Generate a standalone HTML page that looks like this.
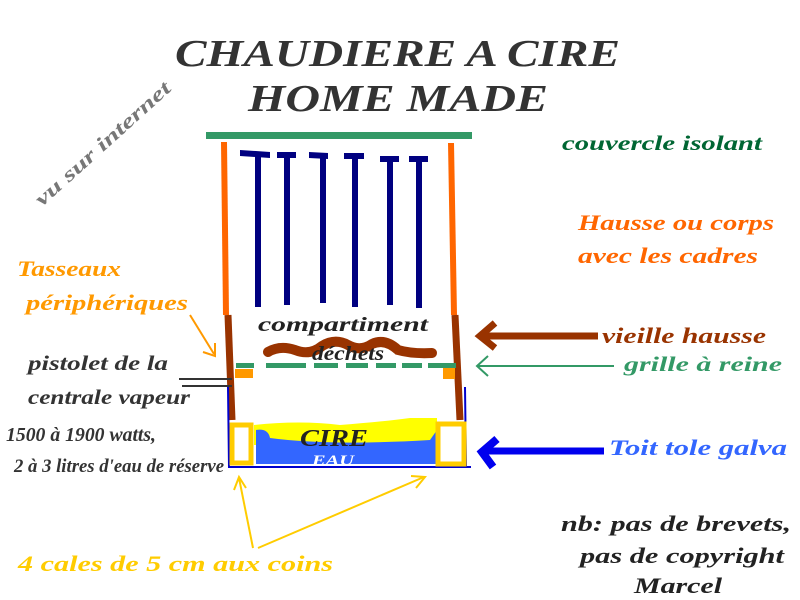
<!DOCTYPE html>
<html><head><meta charset="utf-8"><style>
html,body{margin:0;padding:0;background:#fff;width:800px;height:600px;overflow:hidden}
text{font-family:"Liberation Serif",serif;font-style:italic;font-weight:bold}
</style></head><body>
<svg width="800" height="600" xmlns="http://www.w3.org/2000/svg">
<rect width="800" height="600" fill="#fff"/>
<!-- titles -->
<text x="175" y="66" font-size="38" fill="#333" textLength="445" lengthAdjust="spacingAndGlyphs">CHAUDIERE A CIRE</text>
<text x="248" y="111" font-size="38" fill="#333" textLength="300" lengthAdjust="spacingAndGlyphs">HOME MADE</text>
<text x="0" y="0" font-size="20" fill="#777" transform="translate(42,207) rotate(-42)" textLength="175" lengthAdjust="spacingAndGlyphs">vu sur internet</text>
<!-- cover -->
<rect x="206" y="132" width="266" height="7" fill="#339966"/>
<!-- posts -->
<line x1="224" y1="142" x2="226" y2="315" stroke="#ff6600" stroke-width="6"/>
<line x1="451" y1="143" x2="454" y2="315" stroke="#ff6600" stroke-width="6"/>
<line x1="228" y1="315" x2="232" y2="420" stroke="#993300" stroke-width="7"/>
<line x1="455" y1="315" x2="460" y2="420" stroke="#993300" stroke-width="7"/>
<!-- frames -->
<g fill="#000080">
<polygon points="240,150 270,152 270,158 240,156"/><rect x="255" y="155" width="6" height="152"/>
<rect x="277" y="152" width="19" height="6"/><rect x="284" y="155" width="6" height="150"/>
<polygon points="309,152 328,153 328,159 309,158"/><rect x="320" y="155" width="6" height="148"/>
<rect x="344" y="153" width="20" height="6"/><rect x="352" y="155" width="6" height="152"/>
<rect x="380" y="156" width="19" height="6"/><rect x="387" y="158" width="6" height="147"/>
<rect x="409" y="156" width="19" height="6"/><rect x="416" y="158" width="6" height="150"/>
</g>
<!-- brown blob -->
<path d="M268,352 Q280,345 295,350 Q310,356 322,346 Q335,338 348,345 Q360,352 372,344 Q385,338 398,350 Q412,354 432,353" fill="none" stroke="#993300" stroke-width="10" stroke-linecap="round"/>
<!-- grille -->
<g fill="#339966">
<rect x="236" y="363" width="18" height="5"/><rect x="266" y="363" width="40" height="5"/><rect x="314" y="363" width="24" height="5"/><rect x="346" y="363" width="22" height="5"/><rect x="376" y="363" width="20" height="5"/><rect x="402" y="363" width="20" height="5"/><rect x="428" y="363" width="28" height="5"/>
</g>
<rect x="235" y="369" width="18" height="9" fill="#ff9900"/>
<rect x="443" y="368" width="12" height="11" fill="#ff9900"/>
<!-- tank -->
<path d="M228,387 L229,467 L471,467 M465,387 L466,467" fill="none" stroke="#0000cc" stroke-width="2"/>
<path d="M254,425 Q300,420 340,425 Q380,422 410,418 L437,418 L437,445 L254,445 Z" fill="#ffff00"/>
<path d="M256,430 Q268,428 270,438 Q330,446 430,440 L437,430 L437,464 L256,464 Z" fill="#3366ff"/>
<rect x="232" y="425" width="19" height="38" fill="#fff" stroke="#ffcc00" stroke-width="5"/>
<rect x="438" y="424" width="26" height="40" fill="#fff" stroke="#ffcc00" stroke-width="5"/>
<text x="300" y="446" font-size="24" fill="#222" textLength="68" lengthAdjust="spacingAndGlyphs">CIRE</text>
<text x="312" y="465" font-size="15" fill="#fff" textLength="42" lengthAdjust="spacingAndGlyphs">EAU</text>
<text x="258" y="331" font-size="20" fill="#222" textLength="170" lengthAdjust="spacingAndGlyphs">compartiment</text>
<text x="312" y="360" font-size="20" fill="#222" textLength="72" lengthAdjust="spacingAndGlyphs">déchets</text>
<!-- right labels -->
<text x="562" y="150" font-size="21" fill="#006633" textLength="200" lengthAdjust="spacingAndGlyphs">couvercle isolant</text>
<text x="578" y="230" font-size="22" fill="#ff6600" textLength="196" lengthAdjust="spacingAndGlyphs">Hausse ou corps</text>
<text x="578" y="263" font-size="22" fill="#ff6600" textLength="180" lengthAdjust="spacingAndGlyphs">avec les cadres</text>
<text x="602" y="343" font-size="22" fill="#993300" textLength="164" lengthAdjust="spacingAndGlyphs">vieille hausse</text>
<text x="624" y="371" font-size="21" fill="#339966" textLength="158" lengthAdjust="spacingAndGlyphs">grille à reine</text>
<text x="609" y="455" font-size="22" fill="#3366ff" textLength="178" lengthAdjust="spacingAndGlyphs">Toit tole galva</text>
<text x="561" y="531" font-size="22" fill="#222" textLength="230" lengthAdjust="spacingAndGlyphs">nb: pas de brevets,</text>
<text x="580" y="563" font-size="22" fill="#222" textLength="204" lengthAdjust="spacingAndGlyphs">pas de copyright</text>
<text x="634" y="593" font-size="22" fill="#222" textLength="88" lengthAdjust="spacingAndGlyphs">Marcel</text>
<!-- right arrows -->
<line x1="598" y1="336" x2="485" y2="336" stroke="#993300" stroke-width="7"/>
<polyline points="495,323 480,336 495,348" fill="none" stroke="#993300" stroke-width="7"/>
<line x1="614" y1="366" x2="478" y2="366" stroke="#339966" stroke-width="2"/>
<polyline points="488,356 477,366 488,376" fill="none" stroke="#339966" stroke-width="2"/>
<line x1="604" y1="451" x2="487" y2="451" stroke="#0000ee" stroke-width="7"/>
<polyline points="497,439 482,452 493,467" fill="none" stroke="#0000ee" stroke-width="8"/>
<!-- left labels -->
<text x="17" y="276" font-size="22" fill="#ff9900" textLength="104" lengthAdjust="spacingAndGlyphs">Tasseaux</text>
<text x="26" y="310" font-size="22" fill="#ff9900" textLength="162" lengthAdjust="spacingAndGlyphs">périphériques</text>
<line x1="190" y1="315" x2="214" y2="354" stroke="#ff9900" stroke-width="2"/>
<polyline points="203,352 215,356 215,343" fill="none" stroke="#ff9900" stroke-width="2"/>
<text x="28" y="370" font-size="21" fill="#333" textLength="140" lengthAdjust="spacingAndGlyphs">pistolet de la</text>
<text x="28" y="404" font-size="21" fill="#333" textLength="162" lengthAdjust="spacingAndGlyphs">centrale vapeur</text>
<line x1="179" y1="379" x2="232" y2="379" stroke="#333" stroke-width="2"/>
<line x1="182" y1="386" x2="232" y2="386" stroke="#333" stroke-width="2"/>
<text x="6" y="441" font-size="20" fill="#333" textLength="150" lengthAdjust="spacingAndGlyphs">1500 à 1900 watts,</text>
<text x="14" y="472" font-size="19" fill="#333" textLength="210" lengthAdjust="spacingAndGlyphs">2 à 3 litres d'eau de réserve</text>
<text x="18" y="571" font-size="22" fill="#ffcc00" textLength="315" lengthAdjust="spacingAndGlyphs">4 cales de 5 cm aux coins</text>
<g stroke="#ffcc00" stroke-width="2" fill="none">
<line x1="253" y1="548" x2="239" y2="478"/><polyline points="234,490 239,477 246,488"/>
<line x1="258" y1="548" x2="424" y2="477"/><polyline points="411,476 425,477 416,488"/>
</g>
</svg>
</body></html>
